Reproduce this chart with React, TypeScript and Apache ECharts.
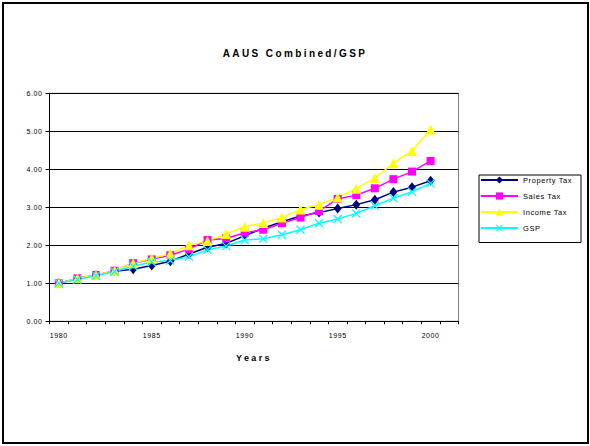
import React, { useEffect, useRef } from "react";
import * as echarts from "echarts";

const titleText = "AAUS Combined/GSP";
const xAxisName = "Years";
// Category slots along the x axis (the last slot is empty, as in the original plot area)
const years = [
  "1980", "1981", "1982", "1983", "1984", "1985", "1986", "1987", "1988", "1989", "1990",
  "1991", "1992", "1993", "1994", "1995", "1996", "1997", "1998", "1999", "2000", "2001",
];
const propertyTax = [1.0, 1.12, 1.21, 1.32, 1.37, 1.47, 1.58, 1.77, 1.95, 2.05, 2.25, 2.45, 2.62, 2.77, 2.86, 2.97, 3.07, 3.2, 3.4, 3.53, 3.7];
const salesTax = [1.0, 1.13, 1.22, 1.33, 1.53, 1.63, 1.74, 1.9, 2.14, 2.18, 2.33, 2.41, 2.58, 2.73, 2.9, 3.22, 3.32, 3.5, 3.74, 3.94, 4.22];
const incomeTax = [1.0, 1.13, 1.22, 1.33, 1.53, 1.66, 1.78, 2.0, 2.11, 2.3, 2.49, 2.59, 2.73, 2.94, 3.07, 3.26, 3.49, 3.77, 4.16, 4.48, 5.05];
const gsp = [1.0, 1.1, 1.2, 1.31, 1.45, 1.56, 1.6, 1.7, 1.88, 1.98, 2.14, 2.17, 2.28, 2.41, 2.58, 2.69, 2.84, 3.04, 3.24, 3.41, 3.63];
const seriesNames = ["Property Tax", "Sales Tax", "Income Tax", "GSP"];
const yMin = 0;
const yMax = 6;
const yStep = 1;

const FONT = "'Liberation Sans', Arial, sans-serif";
const X_SYMBOL = "path://M0,1L1,0L5,4L9,0L10,1L6,5L10,9L9,10L5,6L1,10L0,9L4,5Z";

export default function App() {
  const ref = useRef<HTMLDivElement>(null);
  useEffect(() => {
    if (!ref.current) return;
    const chart = echarts.init(ref.current, null, { renderer: "svg" });
    const mk = (name: string, data: number[], color: string, symbol: string, size: any) => ({
      name,
      type: "line",
      data,
      symbol,
      symbolSize: size,
      showSymbol: true,
      lineStyle: { color, width: 1.5 },
      itemStyle: { color, borderWidth: 0 },
      emphasis: { disabled: true },
    });
    chart.setOption({
      animation: false,
      backgroundColor: "#fff",
      textStyle: { fontFamily: FONT, color: "#000" },
      title: {
        text: titleText,
        left: "center",
        top: 43,
        textStyle: { fontFamily: FONT, fontSize: 10, fontWeight: "bold", color: "#000" },
      },
      grid: {
        left: 49.5,
        right: 131.5,
        top: 93.3,
        bottom: 124.7,
        show: true,
        borderColor: "#808080",
        borderWidth: 1,
        backgroundColor: "transparent",
      },
      legend: {
        orient: "vertical",
        left: 476,
        top: 172,
        padding: [4, 4, 4, 4],
        itemWidth: 37,
        itemHeight: 9,
        itemGap: 8,
        borderWidth: 0,
        selectedMode: false,
        data: seriesNames,
        textStyle: { fontFamily: FONT, fontSize: 7.5, color: "#000" },
      },
      xAxis: {
        type: "category",
        data: years,
        boundaryGap: true,
        name: xAxisName,
        nameLocation: "middle",
        nameGap: 32,
        nameTextStyle: { fontFamily: FONT, fontSize: 9, fontWeight: "bold", color: "#000" },
        axisLine: { lineStyle: { color: "#000", width: 1 } },
        axisTick: { show: true, interval: 0, length: 3, alignWithLabel: false, lineStyle: { color: "#000" } },
        axisLabel: {
          interval: (_i: number, v: string) => Number(v) % 5 === 0 && Number(v) <= 2000,
          margin: 11,
          fontSize: 7,
          color: "#000",
          fontFamily: FONT,
        },
        splitLine: { show: false },
      },
      yAxis: {
        type: "value",
        min: yMin,
        max: yMax,
        interval: yStep,
        axisLine: { show: true, lineStyle: { color: "#000", width: 1 } },
        axisTick: { show: true, length: 4, lineStyle: { color: "#000" } },
        axisLabel: {
          formatter: (v: number) => v.toFixed(2),
          margin: 7,
          fontSize: 7,
          color: "#000",
          fontFamily: FONT,
        },
        splitLine: { show: true, lineStyle: { color: "#000", width: 1 } },
      },
      graphic: [
        {
          type: "rect",
          left: 476.5,
          top: 172.5,
          shape: { width: 102, height: 67.5 },
          style: { fill: "none", stroke: "#000", lineWidth: 1 },
          silent: true,
        },
        {
          type: "rect",
          shape: { x: 3, y: 3, width: 585, height: 440 },
          style: { fill: "none", stroke: "#000", lineWidth: 2 },
          silent: true,
        },
      ],
      series: [
        mk(seriesNames[0], propertyTax, "#000080", "diamond", [8, 10]),
        mk(seriesNames[1], salesTax, "#FF00FF", "rect", 8),
        mk(seriesNames[2], incomeTax, "#FFFF00", "triangle", 10),
        mk(seriesNames[3], gsp, "#00FFFF", X_SYMBOL, 9),
      ],
    });
    return () => chart.dispose();
  }, []);
  return (
    <>
      <style>{
        "body{margin:0} #chart svg text{letter-spacing:0.6px} #chart svg text[style*='bold']{letter-spacing:2.4px}"
      }</style>
      <div id="chart" ref={ref} style={{ position: "fixed", left: 0, top: 0, width: 590, height: 446 }} />
    </>
  );
}
